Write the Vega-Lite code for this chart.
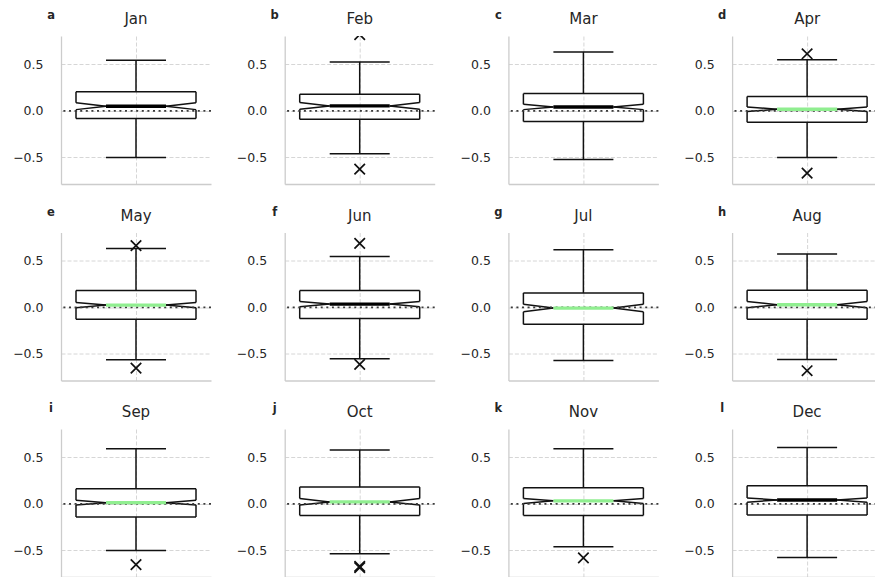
{
  "$schema": "https://vega.github.io/schema/vega-lite/v6.json",
  "background": "white",
  "padding": {"left": 12, "top": 10, "right": 0, "bottom": 0},
  "data": {
    "values": [
      {"month": "Jan", "letter": "a", "wlo": -0.50, "q1": -0.082, "nlo": 0.014, "med": 0.050, "nhi": 0.087, "q3": 0.207, "whi": 0.545, "sig": "yes", "oa": null, "ob": null},
      {"month": "Feb", "letter": "b", "wlo": -0.459, "q1": -0.090, "nlo": 0.018, "med": 0.054, "nhi": 0.090, "q3": 0.179, "whi": 0.527, "sig": "yes", "oa": 0.82, "ob": -0.625},
      {"month": "Mar", "letter": "c", "wlo": -0.521, "q1": -0.114, "nlo": 0.014, "med": 0.043, "nhi": 0.071, "q3": 0.186, "whi": 0.632, "sig": "yes", "oa": null, "ob": null},
      {"month": "Apr", "letter": "d", "wlo": -0.500, "q1": -0.121, "nlo": -0.007, "med": 0.018, "nhi": 0.043, "q3": 0.154, "whi": 0.550, "sig": "no", "oa": 0.614, "ob": -0.668},
      {"month": "May", "letter": "e", "wlo": -0.562, "q1": -0.127, "nlo": -0.004, "med": 0.025, "nhi": 0.054, "q3": 0.181, "whi": 0.634, "sig": "no", "oa": 0.663, "ob": -0.652},
      {"month": "Jun", "letter": "f", "wlo": -0.551, "q1": -0.120, "nlo": 0.007, "med": 0.036, "nhi": 0.065, "q3": 0.181, "whi": 0.547, "sig": "yes", "oa": 0.688, "ob": -0.612},
      {"month": "Jul", "letter": "g", "wlo": -0.571, "q1": -0.182, "nlo": -0.047, "med": -0.007, "nhi": 0.033, "q3": 0.156, "whi": 0.620, "sig": "no", "oa": null, "ob": null},
      {"month": "Aug", "letter": "h", "wlo": -0.560, "q1": -0.127, "nlo": -0.004, "med": 0.029, "nhi": 0.065, "q3": 0.185, "whi": 0.575, "sig": "no", "oa": null, "ob": -0.68},
      {"month": "Sep", "letter": "i", "wlo": -0.500, "q1": -0.141, "nlo": -0.011, "med": 0.014, "nhi": 0.040, "q3": 0.163, "whi": 0.594, "sig": "no", "oa": null, "ob": -0.652},
      {"month": "Oct", "letter": "j", "wlo": -0.536, "q1": -0.123, "nlo": -0.011, "med": 0.022, "nhi": 0.058, "q3": 0.181, "whi": 0.580, "sig": "no", "oa": -0.670, "ob": -0.684},
      {"month": "Nov", "letter": "k", "wlo": -0.460, "q1": -0.123, "nlo": 0.004, "med": 0.033, "nhi": 0.058, "q3": 0.174, "whi": 0.594, "sig": "no", "oa": null, "ob": -0.58},
      {"month": "Dec", "letter": "l", "wlo": -0.576, "q1": -0.120, "nlo": 0.018, "med": 0.043, "nhi": 0.065, "q3": 0.196, "whi": 0.605, "sig": "yes", "oa": null, "ob": null}
    ]
  },
  "facet": {
    "field": "month",
    "type": "nominal",
    "sort": ["Jan", "Feb", "Mar", "Apr", "May", "Jun", "Jul", "Aug", "Sep", "Oct", "Nov", "Dec"],
    "header": {"title": null, "labels": false, "labelExpr": "''", "labelFontSize": 0, "labelPadding": 0}
  },
  "columns": 4,
  "spacing": {"row": 48.5, "column": 73.7},
  "bounds": "flush",
  "resolve": {"axis": {"x": "independent", "y": "independent"}},
  "spec": {
    "width": 150,
    "height": 148,
    "layer": [
      {
        "mark": "rule",
        "encoding": {
          "x": {"datum": 0, "type": "quantitative", "title": null, "scale": {"domain": [-0.5, 0.5], "nice": false, "zero": false}, "axis": {"values": [0], "labels": false, "title": null}},
          "y": {"field": "q3", "type": "quantitative", "title": null, "scale": {"domain": [-0.785, 0.805], "nice": false, "zero": false}, "axis": {"values": [-0.5, 0, 0.5], "format": ".1f", "title": null}},
          "y2": {"field": "whi"}
        }
      },
      {
        "mark": "rule",
        "encoding": {
          "x": {"datum": 0, "type": "quantitative", "title": null},
          "y": {"field": "wlo", "type": "quantitative", "title": null},
          "y2": {"field": "q1"}
        }
      },
      {
        "mark": "rule",
        "encoding": {
          "x": {"datum": -0.2, "type": "quantitative", "title": null},
          "x2": {"datum": 0.2},
          "y": {"field": "whi", "type": "quantitative", "title": null}
        }
      },
      {
        "mark": "rule",
        "encoding": {
          "x": {"datum": -0.2, "type": "quantitative", "title": null},
          "x2": {"datum": 0.2},
          "y": {"field": "wlo", "type": "quantitative", "title": null}
        }
      },
      {
        "mark": "rule",
        "encoding": {
          "x": {"datum": -0.4, "type": "quantitative", "title": null},
          "x2": {"datum": 0.4},
          "y": {"field": "q3", "type": "quantitative", "title": null}
        }
      },
      {
        "mark": "rule",
        "encoding": {
          "x": {"datum": -0.4, "type": "quantitative", "title": null},
          "x2": {"datum": 0.4},
          "y": {"field": "q1", "type": "quantitative", "title": null}
        }
      },
      {
        "mark": "rule",
        "encoding": {
          "x": {"datum": -0.4, "type": "quantitative", "title": null},
          "y": {"field": "nhi", "type": "quantitative", "title": null},
          "y2": {"field": "q3"}
        }
      },
      {
        "mark": "rule",
        "encoding": {
          "x": {"datum": -0.4, "type": "quantitative", "title": null},
          "y": {"field": "q1", "type": "quantitative", "title": null},
          "y2": {"field": "nlo"}
        }
      },
      {
        "mark": "rule",
        "encoding": {
          "x": {"datum": 0.4, "type": "quantitative", "title": null},
          "y": {"field": "nhi", "type": "quantitative", "title": null},
          "y2": {"field": "q3"}
        }
      },
      {
        "mark": "rule",
        "encoding": {
          "x": {"datum": 0.4, "type": "quantitative", "title": null},
          "y": {"field": "q1", "type": "quantitative", "title": null},
          "y2": {"field": "nlo"}
        }
      },
      {
        "mark": "rule",
        "encoding": {
          "x": {"datum": -0.4, "type": "quantitative", "title": null},
          "x2": {"datum": -0.2},
          "y": {"field": "nhi", "type": "quantitative", "title": null},
          "y2": {"field": "med"}
        }
      },
      {
        "mark": "rule",
        "encoding": {
          "x": {"datum": -0.4, "type": "quantitative", "title": null},
          "x2": {"datum": -0.2},
          "y": {"field": "nlo", "type": "quantitative", "title": null},
          "y2": {"field": "med"}
        }
      },
      {
        "mark": "rule",
        "encoding": {
          "x": {"datum": 0.4, "type": "quantitative", "title": null},
          "x2": {"datum": 0.2},
          "y": {"field": "nhi", "type": "quantitative", "title": null},
          "y2": {"field": "med"}
        }
      },
      {
        "mark": "rule",
        "encoding": {
          "x": {"datum": 0.4, "type": "quantitative", "title": null},
          "x2": {"datum": 0.2},
          "y": {"field": "nlo", "type": "quantitative", "title": null},
          "y2": {"field": "med"}
        }
      },
      {
        "mark": {"type": "rule", "color": "#3a3a3a", "strokeWidth": 1.8, "strokeDash": [2, 3.6]},
        "encoding": {
          "y": {"datum": 0, "type": "quantitative", "title": null}
        }
      },
      {
        "mark": {"type": "rule", "strokeWidth": 3.4, "strokeCap": "butt"},
        "encoding": {
          "x": {"datum": -0.2, "type": "quantitative", "title": null},
          "x2": {"datum": 0.2},
          "y": {"field": "med", "type": "quantitative", "title": null},
          "color": {"field": "sig", "type": "nominal", "scale": {"domain": ["yes", "no"], "range": ["#000000", "#90ee90"]}, "legend": null}
        }
      },
      {
        "mark": {"type": "point", "shape": "M-1,-1L1,1M-1,1L1,-1", "size": 110, "filled": false, "stroke": "#111111", "strokeWidth": 1.7, "opacity": 1, "clip": true},
        "encoding": {
          "x": {"datum": 0, "type": "quantitative", "title": null},
          "y": {"field": "oa", "type": "quantitative", "title": null}
        }
      },
      {
        "mark": {"type": "point", "shape": "M-1,-1L1,1M-1,1L1,-1", "size": 110, "filled": false, "stroke": "#111111", "strokeWidth": 1.7, "opacity": 1, "clip": true},
        "encoding": {
          "x": {"datum": 0, "type": "quantitative", "title": null},
          "y": {"field": "ob", "type": "quantitative", "title": null}
        }
      },
      {
        "mark": {"type": "text", "dy": -12, "fontSize": 15, "font": "DejaVu Sans", "baseline": "alphabetic", "align": "center", "color": "#262626"},
        "encoding": {
          "x": {"datum": 0, "type": "quantitative", "title": null},
          "y": {"datum": 0.805, "type": "quantitative", "title": null},
          "text": {"field": "month"}
        }
      },
      {
        "mark": {"type": "text", "dx": -10, "dy": -17, "fontWeight": "bold", "fontSize": 11.5, "font": "DejaVu Sans", "baseline": "alphabetic", "align": "center", "color": "#262626"},
        "encoding": {
          "x": {"datum": -0.5, "type": "quantitative", "title": null},
          "y": {"datum": 0.805, "type": "quantitative", "title": null},
          "text": {"field": "letter"}
        }
      }
    ]
  },
  "config": {
    "view": {"stroke": null},
    "font": "DejaVu Sans",
    "rule": {"color": "#111111", "strokeWidth": 1.5},
    "axis": {
      "grid": true,
      "gridColor": "#cccccc",
      "gridDash": [4, 2],
      "gridWidth": 0.8,
      "domainColor": "#cccccc",
      "domainWidth": 1.3,
      "ticks": false,
      "tickSize": 0,
      "labelFont": "DejaVu Sans",
      "labelFontSize": 12.5,
      "labelColor": "#262626",
      "labelPadding": 18
    }
  }
}
